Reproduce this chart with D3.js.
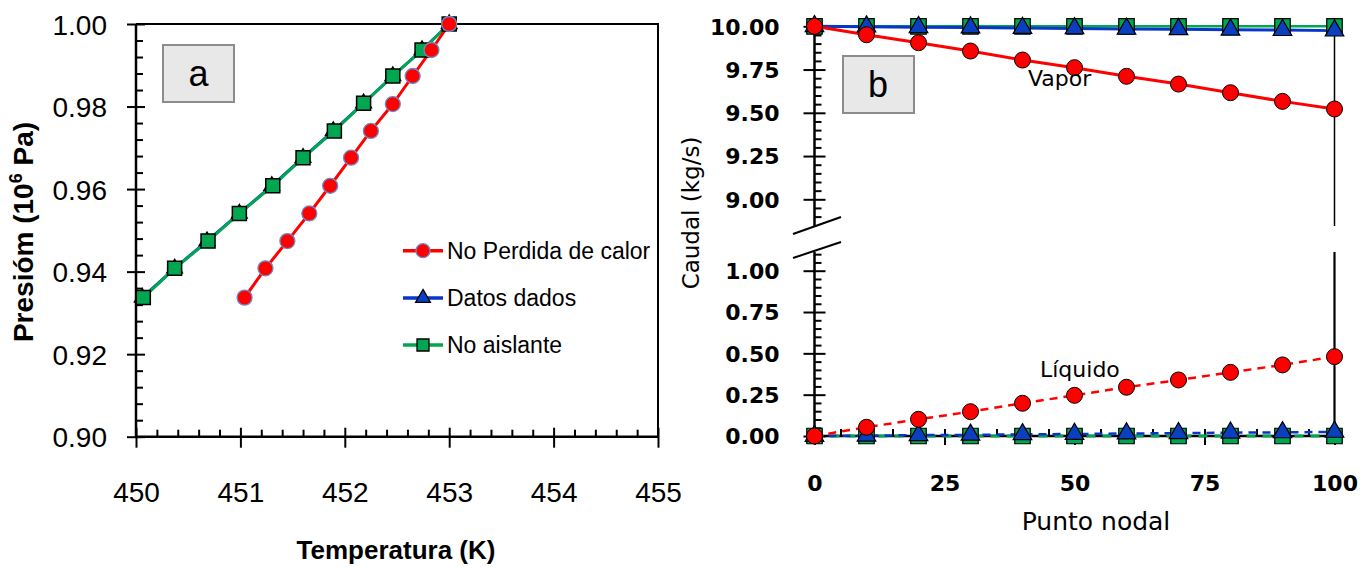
<!DOCTYPE html>
<html>
<head>
<meta charset="utf-8">
<script src="https://cdn.jsdelivr.net/npm/d3@7"></script>
<style>
  body { margin: 0; background: white; }
  svg { display: block; }
</style>
</head>
<body>
<script>
// ---- datos panel a (presion vs temperatura) ----
var tempRojo = [451.04, 451.24, 451.45, 451.66, 451.86, 452.06, 452.25, 452.46, 452.65, 452.83, 453.0];
var presRojo = [0.9337, 0.9408, 0.9474, 0.9541, 0.9608, 0.9676, 0.9741, 0.9806, 0.9874, 0.9937, 1.0];
var tempAzul = [450.06, 450.37, 450.68, 450.99, 451.30, 451.60, 451.89, 452.18, 452.46, 452.74, 453.0];
var presAzul = [0.9337, 0.9408, 0.9474, 0.9541, 0.9608, 0.9676, 0.9741, 0.9808, 0.9874, 0.9937, 1.0];
var tempVerde = [450.07, 450.37, 450.69, 450.99, 451.31, 451.60, 451.90, 452.18, 452.46, 452.74, 453.0];
var presVerde = [0.9337, 0.9408, 0.9474, 0.9541, 0.9608, 0.9676, 0.9741, 0.9808, 0.9874, 0.9937, 1.0];
var leyendaA = ["No Perdida de calor", "Datos dados", "No aislante"];
var ticksTemp = [450, 451, 452, 453, 454, 455];
var ticksPres = [0.90, 0.92, 0.94, 0.96, 0.98, 1.00];

// ---- datos panel b (caudal vs punto nodal) ----
var nodos = [0, 10, 20, 30, 40, 50, 60, 70, 80, 90, 100];
var vaporRojo = [10, 9.951, 9.905, 9.857, 9.805, 9.761, 9.711, 9.666, 9.616, 9.566, 9.522];
var vaporAzul = [10, 9.998, 9.995, 9.993, 9.990, 9.988, 9.985, 9.983, 9.980, 9.978, 9.975];
var vaporVerde = [10, 10, 10, 10, 10, 10, 10, 10, 10, 10, 10];
var liquidoRojo = [0, 0.053, 0.101, 0.147, 0.198, 0.246, 0.295, 0.339, 0.385, 0.430, 0.480];
var liquidoAzul = [0, 0.002, 0.005, 0.007, 0.010, 0.012, 0.015, 0.017, 0.020, 0.022, 0.025];
var liquidoVerde = [0, 0, 0, 0, 0, 0, 0, 0, 0, 0, 0];
var ticksNodo = [0, 25, 50, 75, 100];
var ticksVapor = [9.00, 9.25, 9.50, 9.75, 10.00];
var ticksLiquido = [0.00, 0.25, 0.50, 0.75, 1.00];

var ROJO = "#ff0000", AZUL = "#0736c8", VERDE = "#00a650", AZUL_MARCA = "#0a3fc0";

var svg = d3.select("body").append("svg").attr("width", 1372).attr("height", 567);

function rango(a, b, paso) {
    var r = [];
    for (var v = a; v <= b + 1e-9; v += paso) r.push(+v.toFixed(4));
    return r;
}

// eje con marcas mayores que cruzan la linea y menores hacia dentro
function ejeY(g, escala, x, mayores, menores, fmt, fuente, tam, pad, largo) {
    var eje = g.append("g").attr("transform", "translate(" + x + ",0)")
        .call(d3.axisLeft(escala).tickValues(mayores).tickSize(largo).tickSizeOuter(0).tickPadding(pad).tickFormat(fmt));
    eje.selectAll(".tick line").attr("x1", largo).attr("stroke-width", 2);
    eje.select(".domain").remove();
    eje.selectAll("text").attr("font-family", fuente.familia).attr("font-weight", fuente.peso)
        .attr("font-size", tam).attr("fill", "black").attr("dy", "0.36em");
    var m = g.append("g").attr("transform", "translate(" + x + ",0)")
        .call(d3.axisRight(escala).tickValues(menores).tickSize(7).tickFormat(""));
    m.select(".domain").remove();
    m.selectAll(".tick line").attr("stroke-width", 2);
}

function ejeX(g, escala, y, mayores, menores, fmt, fuente, tam, yTexto, largo) {
    var eje = g.append("g").attr("transform", "translate(0," + y + ")")
        .call(d3.axisBottom(escala).tickValues(mayores).tickSize(largo).tickSizeOuter(0).tickFormat(fmt));
    eje.selectAll(".tick line").attr("y1", -largo + 2).attr("stroke-width", 2);
    eje.select(".domain").remove();
    eje.selectAll("text").attr("font-family", fuente.familia).attr("font-weight", fuente.peso)
        .attr("font-size", tam).attr("fill", "black").attr("y", yTexto).attr("dy", null);
    var m = g.append("g").attr("transform", "translate(0," + y + ")")
        .call(d3.axisTop(escala).tickValues(menores).tickSize(7).tickFormat(""));
    m.select(".domain").remove();
    m.selectAll(".tick line").attr("stroke-width", 2);
}

function linea(g, xs, ys, ex, ey, color, ancho, guiones) {
    var datos = xs.map(function (v, i) { return [v, ys[i]]; });
    g.append("path").datum(datos)
        .attr("d", d3.line().x(function (d) { return ex(d[0]); }).y(function (d) { return ey(d[1]); }))
        .attr("fill", "none").attr("stroke", color).attr("stroke-width", ancho)
        .attr("stroke-dasharray", guiones || null);
}

function marcas(g, xs, ys, ex, ey, tipo, tam, relleno, borde, anchoBorde) {
    var datos = xs.map(function (v, i) { return [v, ys[i]]; });
    if (tipo == "circulo") {
        g.selectAll(null).data(datos).enter().append("circle")
            .attr("cx", function (d) { return ex(d[0]); }).attr("cy", function (d) { return ey(d[1]); })
            .attr("r", tam).attr("fill", relleno).attr("stroke", borde).attr("stroke-width", anchoBorde);
    } else {
        var simbolo = tipo == "cuadro" ? d3.symbolSquare : d3.symbolTriangle;
        g.selectAll(null).data(datos).enter().append("path")
            .attr("transform", function (d) { return "translate(" + ex(d[0]) + "," + ey(d[1]) + ")"; })
            .attr("d", d3.symbol(simbolo, tam))
            .attr("fill", relleno).attr("stroke", borde).attr("stroke-width", anchoBorde);
    }
}

function caja(g, x, y, w, h, letra, tx, ty) {
    g.append("rect").attr("x", x).attr("y", y).attr("width", w).attr("height", h)
        .attr("fill", "#e8e8e8").attr("stroke", "#8c8c8c").attr("stroke-width", 2);
    g.append("text").attr("x", tx).attr("y", ty).attr("text-anchor", "middle")
        .attr("font-family", "Liberation Sans, Arial, sans-serif").attr("font-size", 36).text(letra);
}

// ================= panel a =================
function panelA() {
    var g = svg.append("g");
    var x = d3.scaleLinear().domain([450, 455]).range([136, 658]);
    var y = d3.scaleLinear().domain([0.90, 1.00]).range([436.7, 24]);
    var calibri = { familia: "Liberation Sans, Arial, sans-serif", peso: "normal" };

    // marco: arriba y derecha
    g.append("path").attr("d", "M" + x(450) + "," + y(1) + "H" + x(455) + "V" + y(0.9))
        .attr("fill", "none").attr("stroke", "black").attr("stroke-width", 2);
    g.append("line").attr("x1", x(450)).attr("x2", x(450)).attr("y1", y(1)).attr("y2", y(0.9))
        .attr("stroke", "black").attr("stroke-width", 2.5);
    g.append("line").attr("x1", x(450)).attr("x2", x(455)).attr("y1", y(0.9)).attr("y2", y(0.9))
        .attr("stroke", "black").attr("stroke-width", 2.5);

    ejeY(g, y, x(450), ticksPres, rango(0.904, 0.996, 0.004).filter(function (v) { return Math.abs(v * 50 - Math.round(v * 50)) > 1e-6; }),
        d3.format(".2f"), calibri, 28, 20, 9);
    ejeX(g, x, y(0.9), ticksTemp, rango(450.2, 454.8, 0.2).filter(function (v) { return Math.abs(v - Math.round(v)) > 1e-6; }),
        d3.format("d"), calibri, 28, 65, 11);

    caja(g, 163, 45, 71, 57, "a", 198.5, 86);

    linea(g, tempAzul, presAzul, x, y, AZUL, 3);
    linea(g, tempVerde, presVerde, x, y, VERDE, 3);
    linea(g, tempRojo, presRojo, x, y, ROJO, 3);
    marcas(g, tempAzul, presAzul, x, y, "triangulo", 110, AZUL_MARCA, "black", 1.2);
    marcas(g, tempVerde, presVerde, x, y, "cuadro", 196, VERDE, "black", 1.5);
    marcas(g, tempRojo, presRojo, x, y, "circulo", 7.5, ROJO, "#6a8cc8", 1.3);

    // leyenda
    var colores = [ROJO, AZUL, VERDE], tipos = ["circulo", "triangulo", "cuadro"];
    var filas = [250.7, 298, 345];
    leyendaA.forEach(function (t, i) {
        var fila = g.append("g").attr("transform", "translate(0," + filas[i] + ")");
        fila.append("line").attr("x1", 403).attr("x2", 443).attr("stroke", colores[i]).attr("stroke-width", 3.5);
        if (tipos[i] == "circulo") {
            fila.append("circle").attr("cx", 423).attr("r", 7).attr("fill", ROJO).attr("stroke", "#6a8cc8").attr("stroke-width", 1.3);
        } else {
            fila.append("path").attr("transform", "translate(423,0)")
                .attr("d", d3.symbol(tipos[i] == "cuadro" ? d3.symbolSquare : d3.symbolTriangle, tipos[i] == "cuadro" ? 144 : 95))
                .attr("fill", tipos[i] == "cuadro" ? VERDE : AZUL_MARCA).attr("stroke", "black").attr("stroke-width", 1.3);
        }
        fila.append("text").attr("x", 447).attr("y", 8).attr("font-family", "Liberation Sans, Arial, sans-serif")
            .attr("font-size", 23).text(t);
    });

    // titulos
    g.append("text").attr("x", 396).attr("y", 559).attr("text-anchor", "middle")
        .attr("font-family", "Liberation Sans, Arial, sans-serif").attr("font-weight", "bold").attr("font-size", 26)
        .text("Temperatura (K)");
    var ty = g.append("text").attr("transform", "translate(33,232) rotate(-90)").attr("text-anchor", "middle")
        .attr("font-family", "Liberation Sans, Arial, sans-serif").attr("font-weight", "bold").attr("font-size", 28);
    ty.append("tspan").text("Presióm (10");
    ty.append("tspan").attr("font-size", 18).attr("dy", -11).text("6");
    ty.append("tspan").attr("dy", 11).text(" Pa)");
}

// ================= panel b =================
function panelB() {
    var g = svg.append("g");
    var x = d3.scaleLinear().domain([0, 100]).range([814.5, 1334.5]);
    var yV = d3.scaleLinear().domain([9, 10]).range([199.3, 26.3]);
    var yL = d3.scaleLinear().domain([0, 1]).range([436, 270.7]);
    var dejaBold = { familia: "DejaVu Sans, Verdana, sans-serif", peso: "bold" };
    var corteSup = 226, corteInf = 252;

    // lineas de ejes con corte
    g.append("line").attr("x1", x(0)).attr("x2", x(0)).attr("y1", yV(10)).attr("y2", corteSup).attr("stroke", "black").attr("stroke-width", 2.5);
    g.append("line").attr("x1", x(0)).attr("x2", x(0)).attr("y1", corteInf).attr("y2", yL(0)).attr("stroke", "black").attr("stroke-width", 2.5);
    g.append("line").attr("x1", x(100)).attr("x2", x(100)).attr("y1", yV(10)).attr("y2", corteSup).attr("stroke", "black").attr("stroke-width", 1.5);
    g.append("line").attr("x1", x(100)).attr("x2", x(100)).attr("y1", corteInf).attr("y2", yL(0)).attr("stroke", "black").attr("stroke-width", 2.2);
    g.append("line").attr("x1", x(0)).attr("x2", x(100) + 5).attr("y1", yL(0)).attr("y2", yL(0)).attr("stroke", "black").attr("stroke-width", 2.5);
    // marcas de corte
    g.append("line").attr("x1", 793).attr("y1", 234).attr("x2", 841).attr("y2", 217).attr("stroke", "black").attr("stroke-width", 2);
    g.append("line").attr("x1", 793).attr("y1", 258).attr("x2", 841).attr("y2", 242).attr("stroke", "black").attr("stroke-width", 2);

    var menV = rango(8.9, 9.95, 0.05).filter(function (v) { return Math.abs(v * 4 - Math.round(v * 4)) > 1e-6; });
    var menL = rango(0.05, 1.1, 0.05).filter(function (v) { return Math.abs(v * 4 - Math.round(v * 4)) > 1e-6; });
    ejeY(g, yV, x(0), ticksVapor, menV, d3.format(".2f"), dejaBold, 22, 24, 11);
    ejeY(g, yL, x(0), ticksLiquido, menL, d3.format(".2f"), dejaBold, 22, 24, 11);
    ejeX(g, x, yL(0), ticksNodo, rango(5, 95, 5).filter(function (v) { return v % 25 != 0; }),
        d3.format("d"), dejaBold, 22, 55, 9);

    caja(g, 843, 56, 71, 57, "b", 878, 97);

    // vapor (lineas continuas)
    linea(g, nodos, vaporVerde, x, yV, VERDE, 2.5);
    linea(g, nodos, vaporAzul, x, yV, AZUL, 3);
    linea(g, nodos, vaporRojo, x, yV, ROJO, 3);
    // liquido (lineas a trazos)
    linea(g, nodos, liquidoVerde, x, yL, VERDE, 3, "9,7");
    linea(g, nodos, liquidoAzul, x, yL, AZUL, 2.5, "8,6");
    linea(g, nodos, liquidoRojo, x, yL, ROJO, 2.5, "8,6");

    marcas(g, nodos, vaporVerde, x, yV, "cuadro", 240, VERDE, "black", 1.2);
    marcas(g, nodos, vaporAzul, x, yV, "triangulo", 150, AZUL_MARCA, "black", 1.2);
    marcas(g, nodos, vaporRojo, x, yV, "circulo", 8, ROJO, "black", 1);
    marcas(g, nodos, liquidoVerde, x, yL, "cuadro", 240, VERDE, "black", 1.2);
    marcas(g, nodos, liquidoAzul, x, yL, "triangulo", 150, AZUL_MARCA, "black", 1.2);
    marcas(g, nodos, liquidoRojo, x, yL, "circulo", 8, ROJO, "black", 1);

    g.append("text").attr("x", 1028).attr("y", 86).attr("font-family", "DejaVu Sans, Verdana, sans-serif")
        .attr("font-size", 22).text("Vapor");
    g.append("text").attr("x", 1040).attr("y", 377).attr("font-family", "DejaVu Sans, Verdana, sans-serif")
        .attr("font-size", 22).text("Líquido");

    g.append("text").attr("x", 1096).attr("y", 530).attr("text-anchor", "middle")
        .attr("font-family", "DejaVu Sans, Verdana, sans-serif").attr("font-size", 25).text("Punto nodal");
    g.append("text").attr("transform", "translate(699,213) rotate(-90)").attr("text-anchor", "middle")
        .attr("font-family", "DejaVu Sans, Verdana, sans-serif").attr("font-size", 23).text("Caudal (kg/s)");
}

window.onload = function () {
    panelA();
    panelB();
};
</script>
</body>
</html>
